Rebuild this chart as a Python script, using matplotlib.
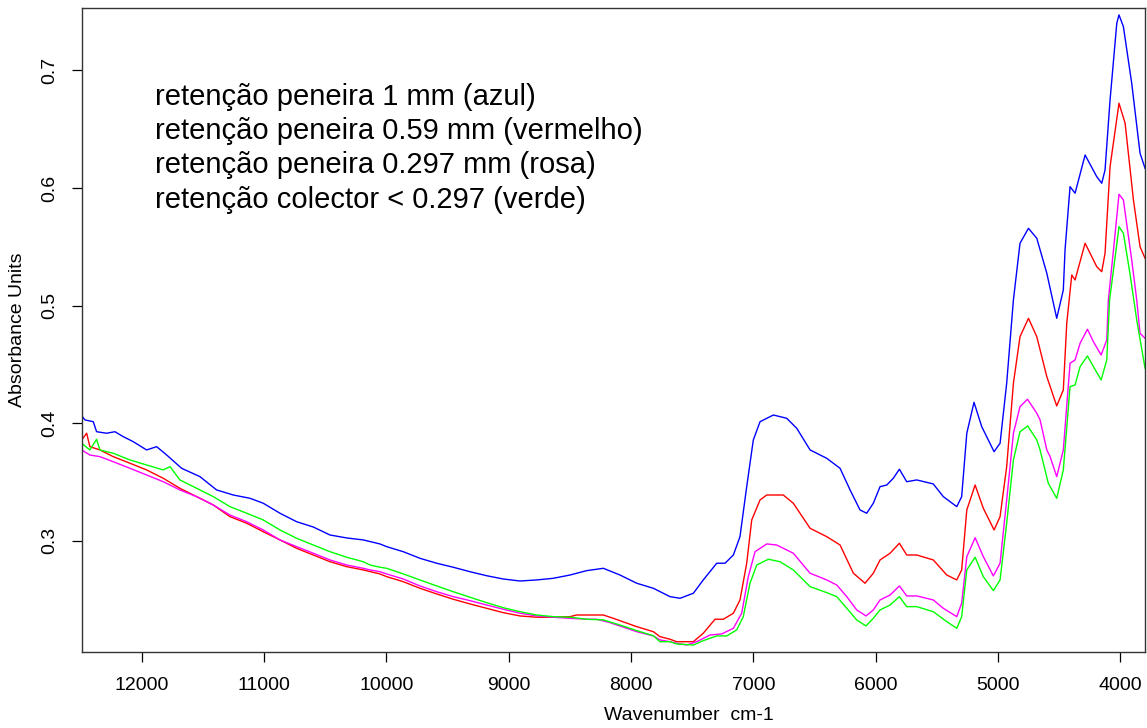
import matplotlib
matplotlib.use("Agg")
import matplotlib.pyplot as plt

plt.rcParams['font.family'] = ['Liberation Sans', 'DejaVu Sans']

# === DATA ===
wn_blue = [12491, 12464, 12396, 12369, 12287, 12219, 12151, 12069, 11960, 11878,
           11796, 11674, 11524, 11388, 11252, 11115, 11007, 10870, 10734, 10598,
           10461, 10325, 10189, 10053, 9998, 9862, 9726, 9589, 9454, 9317,
           9181, 9045, 8908, 8772, 8636, 8499, 8363, 8227, 8091, 7954,
           7818, 7682, 7600, 7491, 7410, 7300, 7232, 7164, 7110, 7055,
           7001, 6946, 6837, 6728, 6646, 6537, 6401, 6292, 6210, 6129,
           6074, 6020, 5965, 5910, 5857, 5807, 5747, 5665, 5530, 5448,
           5338, 5298, 5256, 5197, 5134, 5033, 4984, 4930, 4875, 4821,
           4752, 4684, 4602, 4521, 4467, 4453, 4412, 4371, 4289, 4194,
           4153, 4126, 4085, 4030, 4012, 3976, 3908, 3840, 3799]
abs_blue = [0.4064, 0.4028, 0.4013, 0.3928, 0.3915, 0.3928, 0.3886, 0.3843, 0.3773, 0.3801,
            0.3730, 0.3617, 0.3546, 0.3433, 0.3390, 0.3362, 0.3320, 0.3235, 0.3163, 0.3118,
            0.3050, 0.3025, 0.3008, 0.2974, 0.2951, 0.2908, 0.2852, 0.2810, 0.2776, 0.2738,
            0.2704, 0.2676, 0.2659, 0.2668, 0.2682, 0.2710, 0.2747, 0.2767, 0.2710, 0.2640,
            0.2597, 0.2526, 0.2512, 0.2555, 0.2668, 0.2810, 0.2810, 0.2880, 0.3036, 0.3461,
            0.3858, 0.4013, 0.4070, 0.4042, 0.3957, 0.3773, 0.3702, 0.3617, 0.3433, 0.3263,
            0.3235, 0.3320, 0.3461, 0.3475, 0.3532, 0.3609, 0.3503, 0.3518, 0.3484, 0.3376,
            0.3291, 0.3376, 0.3915, 0.4178, 0.3971, 0.3758, 0.3830, 0.4340, 0.5048, 0.5530,
            0.5657, 0.5572, 0.5275, 0.4892, 0.5133, 0.5473, 0.6011, 0.5955, 0.6280, 0.6096,
            0.6040, 0.6153, 0.6748, 0.7400, 0.7471, 0.7371, 0.6890, 0.6295, 0.6167]

wn_red = [12491, 12450, 12424, 12342, 12233, 12096, 11960, 11824, 11688, 11551,
          11415, 11279, 11142, 11007, 10870, 10734, 10598, 10461, 10325, 10189,
          10053, 9998, 9862, 9726, 9589, 9454, 9317, 9181, 9045, 8908,
          8772, 8636, 8499, 8445, 8227, 8146, 7954, 7818, 7764, 7682,
          7627, 7491, 7410, 7314, 7246, 7164, 7110, 7055, 7014, 6946,
          6891, 6756, 6674, 6537, 6401, 6292, 6183, 6088, 6020, 5965,
          5883, 5807, 5747, 5665, 5530, 5420, 5338, 5298, 5256, 5188,
          5121, 5033, 4984, 4930, 4875, 4821, 4752, 4684, 4602, 4521,
          4467, 4439, 4398, 4371, 4289, 4194, 4153, 4126, 4085, 4012,
          3962, 3894, 3840, 3799]
abs_red = [0.3858, 0.3915, 0.3801, 0.3773, 0.3716, 0.3660, 0.3603, 0.3532, 0.3447, 0.3376,
           0.3305, 0.3206, 0.3150, 0.3078, 0.3008, 0.2937, 0.2880, 0.2823, 0.2781, 0.2753,
           0.2719, 0.2696, 0.2653, 0.2597, 0.2549, 0.2504, 0.2464, 0.2427, 0.2390, 0.2362,
           0.2351, 0.2351, 0.2356, 0.2370, 0.2370, 0.2342, 0.2271, 0.2228, 0.2186, 0.2164,
           0.2143, 0.2143, 0.2215, 0.2334, 0.2334, 0.2385, 0.2498, 0.2810, 0.3178, 0.3348,
           0.3390, 0.3390, 0.3320, 0.3107, 0.3036, 0.2965, 0.2725, 0.2640, 0.2725, 0.2838,
           0.2895, 0.2980, 0.2880, 0.2880, 0.2838, 0.2710, 0.2668, 0.2753, 0.3263, 0.3475,
           0.3277, 0.3093, 0.3206, 0.3631, 0.4340, 0.4736, 0.4892, 0.4736, 0.4396, 0.4147,
           0.4283, 0.4850, 0.5260, 0.5218, 0.5530, 0.5331, 0.5288, 0.5445, 0.6181, 0.6720,
           0.6550, 0.5898, 0.5501, 0.5402]

wn_pink = [12491, 12424, 12342, 12233, 12096, 11960, 11824, 11688, 11551, 11415,
           11279, 11142, 11007, 10870, 10734, 10598, 10461, 10325, 10189, 10134,
           10053, 9998, 9862, 9726, 9589, 9454, 9317, 9181, 9045, 8908,
           8772, 8636, 8499, 8363, 8281, 8173, 7954, 7818, 7764, 7682,
           7627, 7546, 7464, 7355, 7259, 7164, 7096, 7042, 6987, 6891,
           6810, 6674, 6537, 6401, 6319, 6237, 6156, 6080, 6020, 5965,
           5883, 5807, 5747, 5665, 5530, 5448, 5338, 5298, 5256, 5188,
           5121, 5039, 4984, 4930, 4875, 4821, 4760, 4684, 4657, 4602,
           4575, 4521, 4467, 4412, 4371, 4330, 4270, 4221, 4158, 4112,
           4099, 4057, 4012, 3976, 3908, 3867, 3840, 3799]
abs_pink = [0.3773, 0.3730, 0.3716, 0.3673, 0.3617, 0.3560, 0.3503, 0.3433, 0.3376, 0.3305,
            0.3220, 0.3163, 0.3093, 0.3008, 0.2951, 0.2895, 0.2838, 0.2795, 0.2767, 0.2753,
            0.2738, 0.2719, 0.2676, 0.2617, 0.2568, 0.2526, 0.2492, 0.2455, 0.2419, 0.2385,
            0.2362, 0.2351, 0.2342, 0.2334, 0.2334, 0.2305, 0.2228, 0.2192, 0.2158, 0.2143,
            0.2130, 0.2115, 0.2143, 0.2200, 0.2209, 0.2257, 0.2385, 0.2696, 0.2908, 0.2974,
            0.2965, 0.2895, 0.2725, 0.2668, 0.2625, 0.2526, 0.2413, 0.2362, 0.2413, 0.2498,
            0.2540, 0.2617, 0.2532, 0.2532, 0.2498, 0.2427, 0.2356, 0.2470, 0.2866, 0.3027,
            0.2866, 0.2702, 0.2810, 0.3348, 0.3915, 0.4141, 0.4204, 0.4085, 0.4028, 0.3773,
            0.3716, 0.3546, 0.3773, 0.4510, 0.4538, 0.4680, 0.4799, 0.4693, 0.4580, 0.4708,
            0.5048, 0.5473, 0.5946, 0.5898, 0.5388, 0.5048, 0.4765, 0.4722]

wn_green = [12491, 12424, 12369, 12342, 12233, 12096, 11960, 11824, 11769, 11688,
            11551, 11415, 11279, 11142, 11007, 10870, 10734, 10598, 10461, 10325,
            10189, 10134, 10053, 9998, 9862, 9726, 9589, 9454, 9317, 9181,
            9045, 8908, 8772, 8636, 8499, 8363, 8227, 8091, 7954, 7818,
            7764, 7682, 7627, 7491, 7410, 7300, 7219, 7137, 7083, 7028,
            6973, 6878, 6783, 6674, 6537, 6401, 6319, 6237, 6156, 6080,
            6020, 5965, 5883, 5807, 5747, 5665, 5530, 5420, 5338, 5298,
            5256, 5188, 5121, 5039, 4984, 4930, 4875, 4821, 4758, 4684,
            4657, 4590, 4521, 4467, 4412, 4371, 4330, 4270, 4221, 4158,
            4112, 4089, 4036, 4012, 3976, 3922, 3867, 3799]
abs_green = [0.3830, 0.3773, 0.3864, 0.3773, 0.3745, 0.3688, 0.3645, 0.3603, 0.3631, 0.3518,
             0.3447, 0.3376, 0.3291, 0.3235, 0.3178, 0.3093, 0.3022, 0.2965, 0.2908, 0.2861,
             0.2823, 0.2795, 0.2776, 0.2767, 0.2719, 0.2668, 0.2617, 0.2568, 0.2521, 0.2475,
             0.2432, 0.2398, 0.2370, 0.2356, 0.2351, 0.2334, 0.2328, 0.2285, 0.2237, 0.2194,
             0.2143, 0.2143, 0.2124, 0.2115, 0.2152, 0.2192, 0.2192, 0.2243, 0.2356, 0.2640,
             0.2795, 0.2844, 0.2823, 0.2753, 0.2611, 0.2560, 0.2526, 0.2427, 0.2328, 0.2277,
             0.2342, 0.2413, 0.2455, 0.2526, 0.2441, 0.2441, 0.2398, 0.2314, 0.2257, 0.2356,
             0.2753, 0.2861, 0.2696, 0.2577, 0.2668, 0.3150, 0.3688, 0.3928, 0.3977, 0.3858,
             0.3773, 0.3490, 0.3362, 0.3603, 0.4311, 0.4325, 0.4481, 0.4572, 0.4481, 0.4368,
             0.4538, 0.5048, 0.5473, 0.5671, 0.5615, 0.5270, 0.4878, 0.4467]

legend_lines = [
    "retenção peneira 1 mm (azul)",
    "retenção peneira 0.59 mm (vermelho)",
    "retenção peneira 0.297 mm (rosa)",
    "retenção colector < 0.297 (verde)",
]

x_ticks = [12000, 11000, 10000, 9000, 8000, 7000, 6000, 5000, 4000]
y_ticks = [0.3, 0.4, 0.5, 0.6, 0.7]

fig = plt.figure(figsize=(11.47, 7.28), dpi=100)
ax = fig.add_axes([0.0712, 0.1048, 0.9271, 0.8838])

ax.plot(wn_blue, abs_blue, color='#0000FF', linewidth=1.0)
ax.plot(wn_red, abs_red, color='#FF0000', linewidth=1.0)
ax.plot(wn_pink, abs_pink, color='#FF00FF', linewidth=1.0)
ax.plot(wn_green, abs_green, color='#00FF00', linewidth=1.0)

ax.set_xlim(12491, 3799)
ax.set_ylim(0.2058, 0.7527)

ax.set_xticks(x_ticks)
ax.set_xticklabels([str(t) for t in x_ticks])
ax.set_yticks(y_ticks)
ax.set_yticklabels([str(t) for t in y_ticks], rotation=90, va='center')
ax.tick_params(direction='out', length=7, width=0.9, labelsize=14, colors='black')
ax.tick_params(axis='x', pad=11)
ax.tick_params(axis='y', pad=10)

for sp in ax.spines.values():
    sp.set_linewidth(1.0)
    sp.set_color('#333333')

ax.set_xlabel("Wavenumber  cm-1", fontsize=14)
ax.set_ylabel("Absorbance Units", fontsize=14)
ax.xaxis.set_label_coords(0.5707, -0.0855)
ax.yaxis.set_label_coords(-0.0525, 0.5)

line_y = [0.862, 0.809, 0.756, 0.702]
for txt, yy in zip(legend_lines, line_y):
    ax.text(0.0689, yy, txt, transform=ax.transAxes, fontsize=21,
            ha='left', va='center')

fig.savefig("out.png", dpi=100)
